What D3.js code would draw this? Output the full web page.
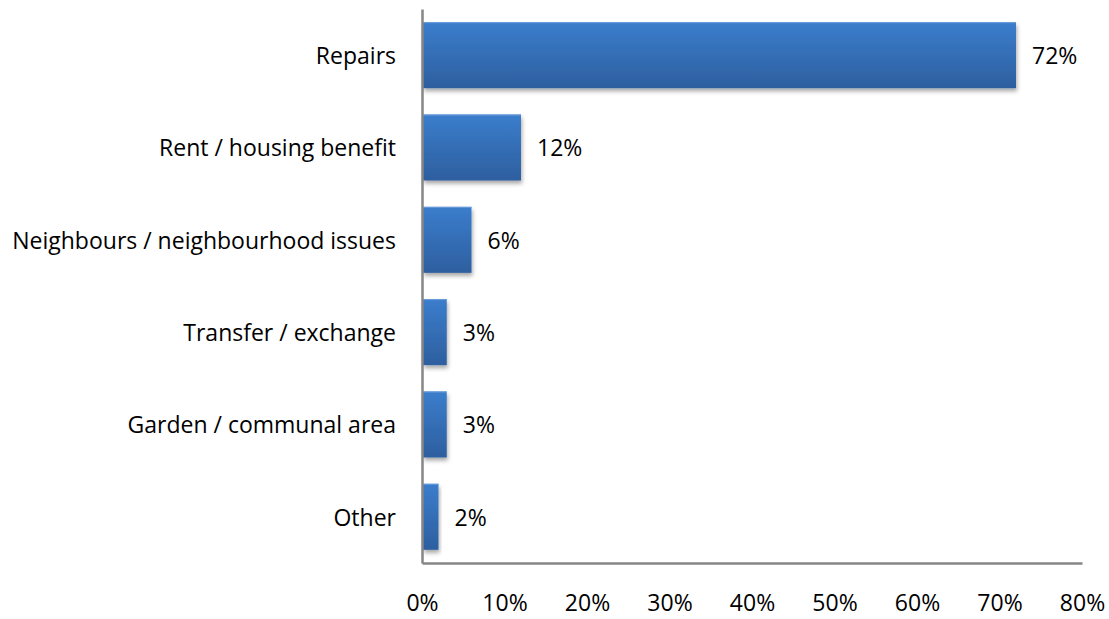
<!DOCTYPE html>
<html>
<head>
<meta charset="utf-8">
<script src="https://cdn.jsdelivr.net/npm/d3@7"></script>
<style>
  html, body { margin: 0; padding: 0; background: #fff; }
  text { font-family: "Open Sans", Lato, sans-serif; fill: #000; }
</style>
</head>
<body>
<svg id="chart" width="1109" height="619"></svg>
<script>
// Reasons for contact, share of responses
const categories = ["Repairs", "Rent / housing benefit", "Neighbours / neighbourhood issues",
                    "Transfer / exchange", "Garden / communal area", "Other"];
const values = [72, 12, 6, 3, 3, 2];
const tickValues = [0, 10, 20, 30, 40, 50, 60, 70, 80];

const svg = d3.select("#chart");
const plotLeft = 422, plotRight = 1082, plotTop = 9, plotBottom = 563;
const fontFamily = "'Open Sans', Lato, sans-serif";
const fontSize = 23;

const x = d3.scaleLinear().domain([0, 80]).range([plotLeft, plotRight]);
const y = d3.scaleBand().domain(categories).range([plotTop, plotBottom]).paddingInner(0.285).paddingOuter(0.143);

const defs = svg.append("defs");
const grad = defs.append("linearGradient").attr("id", "barFill")
  .attr("x1", 0).attr("y1", 0).attr("x2", 0).attr("y2", 1);
grad.append("stop").attr("offset", "0%").attr("stop-color", "#3b7dcc");
grad.append("stop").attr("offset", "100%").attr("stop-color", "#2d5f9f");

const shadow = defs.append("filter").attr("id", "barShadow")
  .attr("x", "-10%").attr("y", "-10%").attr("width", "130%").attr("height", "140%");
shadow.append("feDropShadow").attr("dx", 1).attr("dy", 3).attr("stdDeviation", 2)
  .attr("flood-color", "#000").attr("flood-opacity", 0.35);

// Bars
svg.append("g").selectAll("rect").data(values).join("rect")
  .attr("x", x(0) + 1)
  .attr("y", (d, i) => y(categories[i]))
  .attr("width", d => x(d) - x(0) - 1)
  .attr("height", y.bandwidth())
  .attr("fill", "url(#barFill)")
  .attr("filter", "url(#barShadow)");

// Light top edge of each bar
svg.append("g").selectAll("line").data(values).join("line")
  .attr("x1", x(0) + 1)
  .attr("x2", d => x(d))
  .attr("y1", (d, i) => y(categories[i]) + 0.5)
  .attr("y2", (d, i) => y(categories[i]) + 0.5)
  .attr("stroke", "#6a9ddb").attr("stroke-width", 1);

// Value labels
svg.append("g").selectAll("text").data(values).join("text")
  .attr("x", d => x(d) + 16)
  .attr("y", (d, i) => y(categories[i]) + y.bandwidth() / 2)
  .attr("dy", "0.38em")
  .attr("font-size", fontSize)
  .text(d => d + "%");

// Axes
const xAxis = d3.axisBottom(x).tickValues(tickValues).tickFormat(d => d + "%").tickSize(0).tickPadding(32);
const gx = svg.append("g").attr("transform", `translate(0,${plotBottom})`).call(xAxis);
gx.select(".domain").attr("stroke", "#868686").attr("stroke-width", 2.5);
gx.selectAll(".tick text").attr("font-size", fontSize).attr("font-family", fontFamily).attr("fill", "#000");

const yAxis = d3.axisLeft(y).tickSize(0).tickPadding(26);
const gy = svg.append("g").attr("transform", `translate(${plotLeft},0)`).call(yAxis);
gy.select(".domain").attr("stroke", "#868686").attr("stroke-width", 2.5);
gy.selectAll(".tick text").attr("font-size", fontSize).attr("font-family", fontFamily).attr("fill", "#000")
  .attr("dy", "0.38em");
</script>
</body>
</html>
